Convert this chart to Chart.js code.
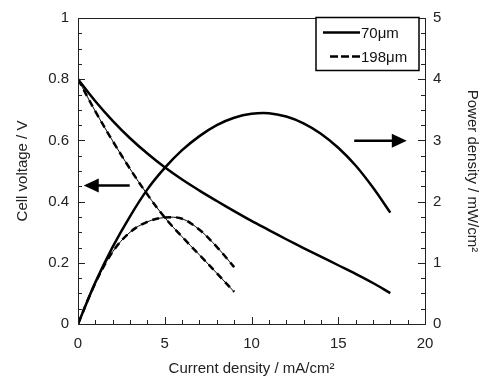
<!DOCTYPE html>
<html>
<head>
<meta charset="utf-8">
<script src="https://cdn.jsdelivr.net/npm/chart.js@4.4.1/dist/chart.umd.min.js"></script>
<style>
  html, body { margin: 0; padding: 0; background: #fff; }
  #wrap { width: 491px; height: 381px; }
</style>
</head>
<body>
<div id="wrap"><canvas id="myChart" width="491" height="381"></canvas></div>
<script>
// ============================================
// DATA
// ============================================

const current70 = [0, 1, 2, 3, 4, 5, 6, 7, 8, 9, 10, 11, 12, 13, 14, 15, 16, 17, 18];
const voltage70 = [0.80, 0.728, 0.664, 0.607, 0.557, 0.512, 0.472, 0.436, 0.402, 0.369, 0.337, 0.307, 0.277, 0.248, 0.220, 0.192, 0.164, 0.134, 0.101];
const power70 = [0, 0.68, 1.26, 1.76, 2.20, 2.55, 2.84, 3.07, 3.25, 3.37, 3.435, 3.445, 3.39, 3.28, 3.11, 2.88, 2.59, 2.23, 1.82];

const current198 = [0, 1, 2, 3, 4, 5, 6, 7, 8, 9];
const voltage198 = [0.80, 0.695, 0.598, 0.507, 0.423, 0.348, 0.285, 0.226, 0.166, 0.105];
const power198 = [0, 0.67, 1.18, 1.50, 1.67, 1.74, 1.72, 1.54, 1.26, 0.93];

const seriesNames = ['70\u03bcm', '198\u03bcm'];

const xTicks = [0, 5, 10, 15, 20];
const yTicks = [0, 0.2, 0.4, 0.6, 0.8, 1];
const y2Ticks = [0, 1, 2, 3, 4, 5];

const FONT = 'Liberation Sans, Arial, sans-serif';

function pts(xs, ys) {
    return xs.map((x, i) => ({ x: x, y: ys[i] }));
}

function plainLabel(v) {
    return String(Number(Number(v).toFixed(2)));
}

// ============================================
// PLUGIN: inward ticks, frame, arrows, legend box
// ============================================

function arrow(c, x0, x1, y) {
    const dir = x1 > x0 ? 1 : -1;
    c.beginPath();
    c.moveTo(x0, y);
    c.lineTo(x1 - dir * 12, y);
    c.stroke();
    c.beginPath();
    c.moveTo(x1, y);
    c.lineTo(x1 - dir * 15, y - 7);
    c.lineTo(x1 - dir * 15, y + 7);
    c.closePath();
    c.fill();
}

const decorations = {
    id: 'decorations',
    afterDatasetsDraw(chart) {
        const c = chart.ctx;
        const a = chart.chartArea;
        const sx = chart.scales.x;
        const sy = chart.scales.y;
        const sy2 = chart.scales.y2;

        c.save();
        c.strokeStyle = '#222';
        c.lineWidth = 1;

        // frame
        c.strokeRect(a.left + 0.5, a.top + 0.5, a.right - a.left, a.bottom - a.top);

        // x ticks (pointing up)
        for (let v = 0; v <= 20; v += 1) {
            const px = Math.round(sx.getPixelForValue(v)) + 0.5;
            const len = v % 5 === 0 ? 7 : 4;
            c.beginPath();
            c.moveTo(px, a.bottom);
            c.lineTo(px, a.bottom - len);
            c.stroke();
        }

        // left y ticks (pointing right)
        for (let i = 0; i <= 20; i++) {
            const py = Math.round(sy.getPixelForValue(i * 0.05)) + 0.5;
            const len = i % 4 === 0 ? 7 : 4;
            c.beginPath();
            c.moveTo(a.left, py);
            c.lineTo(a.left + len, py);
            c.stroke();
        }

        // right y ticks (pointing left)
        for (let i = 0; i <= 20; i++) {
            const py = Math.round(sy2.getPixelForValue(i * 0.25)) + 0.5;
            const len = i % 4 === 0 ? 7 : 4;
            c.beginPath();
            c.moveTo(a.right, py);
            c.lineTo(a.right - len, py);
            c.stroke();
        }

        // arrows
        c.fillStyle = '#000';
        c.strokeStyle = '#000';
        c.lineWidth = 2.5;
        arrow(c, sx.getPixelForValue(2.98), sx.getPixelForValue(0.33), sy.getPixelForValue(0.453));
        arrow(c, sx.getPixelForValue(15.92), sx.getPixelForValue(18.95), sy.getPixelForValue(0.599));

        // legend box
        const bx = 316, by = 17.5, bw = 103, bh = 53;
        c.fillStyle = '#fff';
        c.fillRect(bx, by, bw, bh);
        c.lineWidth = 1.5;
        c.strokeRect(bx, by, bw, bh);

        c.lineWidth = 2.5;
        c.beginPath();
        c.moveTo(323, 32.5);
        c.lineTo(360, 32.5);
        c.stroke();

        c.setLineDash([8, 3]);
        c.beginPath();
        c.moveTo(330, 56.5);
        c.lineTo(360, 56.5);
        c.stroke();
        c.setLineDash([]);

        c.fillStyle = '#111';
        c.font = '15px ' + FONT;
        c.textBaseline = 'middle';
        c.textAlign = 'left';
        c.fillText(seriesNames[0], 361, 34);
        c.fillText(seriesNames[1], 361, 58);

        c.restore();
    }
};

// ============================================
// CREATE CHART
// ============================================

const solid = {
    borderColor: '#000',
    borderWidth: 2.5,
    pointRadius: 0,
    fill: false,
    tension: 0.35
};

const dashed = Object.assign({}, solid, { borderDash: [7, 5] });
const thin = Object.assign({}, solid, { borderWidth: 1 });

const tickFont = { family: FONT, size: 15 };
const titleFont = { family: FONT, size: 15 };

new Chart(document.getElementById('myChart'), {
    type: 'line',
    data: {
        datasets: [
            Object.assign({ label: seriesNames[0], data: pts(current70, voltage70), yAxisID: 'y' }, solid),
            Object.assign({ label: seriesNames[0], data: pts(current70, power70), yAxisID: 'y2' }, solid),
            Object.assign({ label: seriesNames[1], data: pts(current198, voltage198), yAxisID: 'y' }, thin),
            Object.assign({ label: seriesNames[1], data: pts(current198, power198), yAxisID: 'y2' }, thin),
            Object.assign({ label: seriesNames[1], data: pts(current198, voltage198), yAxisID: 'y' }, dashed),
            Object.assign({ label: seriesNames[1], data: pts(current198, power198), yAxisID: 'y2' }, dashed)
        ]
    },
    options: {
        responsive: false,
        animation: false,
        layout: { padding: { top: 15, right: 0, left: 0, bottom: 0 } },
        plugins: {
            legend: { display: false },
            tooltip: { enabled: false }
        },
        scales: {
            x: {
                type: 'linear',
                min: 0,
                max: 20,
                afterBuildTicks: (s) => { s.ticks = xTicks.map(v => ({ value: v })); },
                afterFit: (s) => { s.height = 57; },
                grid: { display: false, drawTicks: false },
                border: { display: false },
                ticks: { color: '#222', padding: 11, font: tickFont, callback: plainLabel },
                title: {
                    display: true,
                    text: 'Current density / mA/cm\u00b2',
                    color: '#222',
                    font: titleFont,
                    padding: { top: 4, bottom: 3 }
                }
            },
            y: {
                position: 'left',
                min: 0,
                max: 1,
                afterBuildTicks: (s) => { s.ticks = yTicks.map(v => ({ value: v })); },
                afterFit: (s) => { s.width = 78; },
                grid: { display: false, drawTicks: false },
                border: { display: false },
                ticks: { color: '#222', padding: 9, font: tickFont, callback: plainLabel },
                title: {
                    display: true,
                    text: 'Cell voltage / V',
                    color: '#222',
                    font: titleFont,
                    padding: { top: 14, bottom: 0 }
                }
            },
            y2: {
                position: 'right',
                min: 0,
                max: 5,
                afterBuildTicks: (s) => { s.ticks = y2Ticks.map(v => ({ value: v })); },
                afterFit: (s) => { s.width = 66; },
                grid: { display: false, drawTicks: false },
                border: { display: false },
                ticks: { color: '#222', padding: 8, font: tickFont, callback: plainLabel },
                title: {
                    display: true,
                    text: 'Power density / mW/cm\u00b2',
                    color: '#222',
                    font: titleFont,
                    padding: { top: 10, bottom: 0 }
                }
            }
        }
    },
    plugins: [decorations]
});
</script>
</body>
</html>
